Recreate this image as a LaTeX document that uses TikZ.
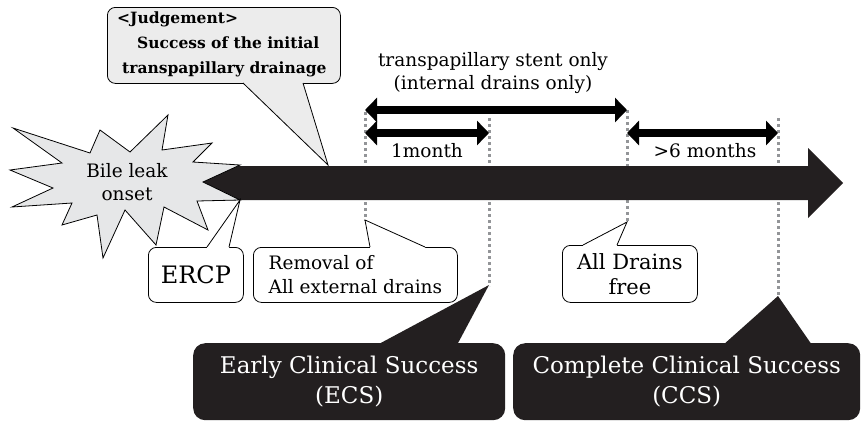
\documentclass[tikz,border=0pt]{standalone}
\usepackage{fontspec}
\setmainfont{DejaVu Serif}
\usepackage{tikz}
\usetikzlibrary{arrows.meta}
\definecolor{darkbox}{RGB}{35,31,32}
\definecolor{burst}{RGB}{230,231,232}
\definecolor{guidegray}{RGB}{147,149,152}
\definecolor{stipple}{RGB}{236,236,236}

\begin{document}
\begin{tikzpicture}[x=1pt,y=-1pt,
  callout/.style={draw,line width=0.8pt,rounded corners=8pt,fill=white,anchor=north west,align=center,inner sep=0pt},
  darkcallout/.style={fill=darkbox,rounded corners=12pt,anchor=north west,align=center,inner sep=0pt,text=white,font=\fontsize{23}{30}\selectfont},
  period/.style={line width=8pt,{Triangle[length=12pt,width=24pt]}-{Triangle[length=12pt,width=24pt]}},
  guide/.style={draw=guidegray,line width=3pt,dash pattern=on 3pt off 3pt}]

\useasboundingbox (0,0) rectangle (862,421);

% dotted guides
\coordinate (g1a) at (365,112); \coordinate (g1b) at (365,221);
\coordinate (g2a) at (489,118); \coordinate (g2b) at (489,286);
\coordinate (g3a) at (627,110); \coordinate (g3b) at (627,223);
\coordinate (g4a) at (778,118); \coordinate (g4b) at (778,297);
\draw[guide] (g1a) -- (g1b);
\draw[guide] (g2a) -- (g2b);
\draw[guide] (g3a) -- (g3b);
\draw[guide] (g4a) -- (g4b);

% time axis
\fill[darkbox] (195,166) -- (808,166) -- (808,148) -- (843,183) -- (808,218) -- (808,200) -- (195,200) -- cycle;

% periods
\coordinate (p1a) at (365,110); \coordinate (p1b) at (627,110);
\coordinate (p2a) at (365,133); \coordinate (p2b) at (489,133);
\coordinate (p3a) at (627,133); \coordinate (p3b) at (778,133);
\draw[period] (p1a) -- (p1b);
\draw[period] (p2a) -- (p2b);
\draw[period] (p3a) -- (p3b);

\node[align=center,font=\fontsize{18.5}{23}\selectfont] (stent) at (493,73) {transpapillary stent only\\(internal drains only)};
\node[font=\fontsize{18.5}{23}\selectfont] (month) at (427,151) {1month};
\node[font=\fontsize{18.5}{23}\selectfont] (six) at (705,151) {>6 months};

% onset
\filldraw[fill=burst,line width=0.8pt] (10,170) -- (62,163) -- (13,128) -- (90,153) -- (100,130) -- (130,152)
  -- (168,115) -- (162,150) -- (212,143) -- (193,162) -- (240,165) -- (203,182) -- (240,200)
  -- (197,201) -- (208,230) -- (164,207) -- (156,245) -- (125,210) -- (103,258) -- (97,215)
  -- (62,225) -- (72,203) -- (12,207) -- (53,188) -- cycle;
\node[align=center,font=\fontsize{18.5}{23}\selectfont] (bile) at (127,182) {Bile leak\\onset};

% judgement
\node[callout,fill=stipple,minimum width=233,minimum height=76] (judge) at (107,7) {};
\node[align=left,anchor=north west,inner sep=0pt,font=\fontsize{15.5}{25}\selectfont\bfseries] (judgetxt) at (117,12)
  {<Judgement>\\\hspace*{20pt}Success of the initial\\\hspace*{5pt}transpapillary drainage};
\coordinate (ja) at (243,83); \coordinate (jb) at (303,83); \coordinate (jt) at (328,165);
\fill[stipple] (243,81) -- (ja) -- (jt) -- (jb) -- (303,81) -- cycle;
\draw[line width=0.8pt] (ja) -- (jt) -- (jb);

% ERCP
\node[callout,minimum width=95,minimum height=55,font=\fontsize{24}{27}\selectfont] (ercp) at (148,247) {ERCP};
\coordinate (ea) at (207,247); \coordinate (eb) at (229,247); \coordinate (et) at (240,200);
\fill[white] (207,249) -- (ea) -- (et) -- (eb) -- (229,249) -- cycle;
\draw[line width=0.8pt] (ea) -- (et) -- (eb);

% removal
\node[callout,align=left,minimum width=204,minimum height=55,font=\fontsize{18.5}{24}\selectfont] (removal) at (253,247) {Removal of\\All external drains};
\coordinate (ra) at (370,247); \coordinate (rb) at (425,247); \coordinate (rt) at (365,220);
\fill[white] (370,249) -- (ra) -- (rt) -- (rb) -- (425,249) -- cycle;
\draw[line width=0.8pt] (ra) -- (rt) -- (rb);

% all drains free
\node[callout,minimum width=135,minimum height=57,font=\fontsize{21}{25}\selectfont] (drains) at (562,245) {All Drains\\free};
\coordinate (da) at (583,245); \coordinate (db) at (617,245); \coordinate (dt) at (627,222);
\fill[white] (583,247) -- (da) -- (dt) -- (db) -- (617,247) -- cycle;
\draw[line width=0.8pt] (da) -- (dt) -- (db);

% success
\node[darkcallout,minimum width=312,minimum height=77] (ecs) at (193,343) {Early Clinical Success\\(ECS)};
\coordinate (ca) at (377,345); \coordinate (cb) at (457,345); \coordinate (ct) at (489,285);
\fill[darkbox] (ca) -- (ct) -- (cb) -- cycle;

\node[darkcallout,minimum width=347,minimum height=77] (ccs) at (513,343) {Complete Clinical Success\\(CCS)};
\coordinate (sa) at (723,345); \coordinate (sb) at (812,345); \coordinate (st) at (778,296);
\fill[darkbox] (sa) -- (st) -- (sb) -- cycle;

\end{tikzpicture}
\end{document}
